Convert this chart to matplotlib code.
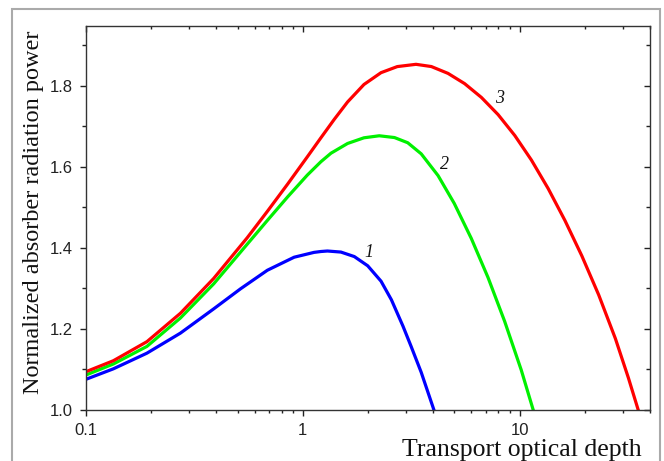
import matplotlib
matplotlib.use("Agg")
import matplotlib.pyplot as plt
from matplotlib.patches import Rectangle
from matplotlib.ticker import FixedLocator, NullFormatter, LogLocator

# ---- data ----
x_blue = [0.1, 0.1338, 0.191, 0.2725, 0.3883, 0.5164, 0.6866, 0.9128, 1.127,
          1.213, 1.300, 1.500, 1.729, 1.994, 2.297, 2.565, 2.90, 3.162, 3.52, 4.03]
y_blue = [1.0758, 1.1017, 1.1403, 1.1897, 1.2497, 1.2992, 1.345, 1.3772, 1.3891,
          1.3913, 1.3925, 1.3899, 1.3788, 1.356, 1.318, 1.272, 1.207, 1.157, 1.093, 1.0]

x_green = [0.1, 0.1338, 0.191, 0.2725, 0.3883, 0.5537, 0.6866, 0.8512, 1.05,
           1.213, 1.35, 1.61, 1.916, 2.254, 2.65, 3.05, 3.52, 4.21, 5.00, 5.99,
           7.16, 8.54, 10.19, 11.57]
y_green = [1.0864, 1.1136, 1.157, 1.227, 1.3115, 1.409, 1.468, 1.526, 1.580,
           1.613, 1.634, 1.658, 1.672, 1.677, 1.6726, 1.6598, 1.6324, 1.5787, 1.510, 1.4238,
           1.3269, 1.2189, 1.0985, 1.0]

x_red = [0.1, 0.1338, 0.191, 0.2725, 0.3883, 0.5537, 0.6866, 0.8512, 1.05, 1.213,
         1.396, 1.61, 1.916, 2.297, 2.73, 3.33, 3.92, 4.68, 5.58, 6.67, 7.97, 9.51,
         11.35, 13.56, 16.20, 19.38, 23.2, 27.7, 31.8, 35.3]
y_red = [1.0946, 1.1217, 1.1687, 1.2387, 1.3248, 1.4249, 1.4904, 1.5576, 1.6251, 1.6721,
         1.7172, 1.7605, 1.8036, 1.8328, 1.8478, 1.8534, 1.8479, 1.8310, 1.8058, 1.7717,
         1.7291, 1.6777, 1.6170, 1.5467, 1.4680, 1.3808, 1.2840, 1.1762, 1.0792, 1.0]

curve_labels = ["1", "2", "3"]
label_x = [2.02, 4.50, 8.08]
label_y = [1.390, 1.607, 1.770]

y_major = [1.0, 1.2, 1.4, 1.6, 1.8]
y_major_labels = ["1.0", "1.2", "1.4", "1.6", "1.8"]
y_minor = [1.1, 1.3, 1.5, 1.7, 1.9]
x_major = [0.1, 1, 10]
x_major_labels = ["0.1", "1", "10"]

x_title = "Transport optical depth"
y_title = "Normalized absorber radiation power"

# ---- figure ----
fig = plt.figure(figsize=(6.64, 4.61), dpi=100)
W, H = 664, 461

# outer grey frame
fig.patches.append(Rectangle((12 / W, -0.05), (660 - 12) / W, 1 - 9 / H + 0.05,
                             transform=fig.transFigure, fill=False,
                             edgecolor="#aaaaaa", linewidth=1.5, zorder=0))

ax = fig.add_axes([86 / W, (H - 410) / H, (650 - 86) / W, (410 - 26) / H])
ax.set_xscale("log")
ax.set_xlim(0.1, 40)
ax.set_ylim(1.0, 1.948)

lw = 2.3
ax.plot(x_blue, y_blue, color="#0000ff", lw=lw, solid_joinstyle="round")
ax.plot(x_green, y_green, color="#00f000", lw=lw, solid_joinstyle="round")
ax.plot(x_red, y_red, color="#ff0000", lw=lw, solid_joinstyle="round")

for t, lx, ly in zip(curve_labels, label_x, label_y):
    ax.text(lx, ly, t, family="Liberation Serif", style="italic", fontsize=13,
            ha="center", va="center", color="#111111")

ax.yaxis.set_major_locator(FixedLocator(y_major))
ax.set_yticklabels(y_major_labels)
ax.yaxis.set_minor_locator(FixedLocator(y_minor))
ax.yaxis.set_minor_formatter(NullFormatter())
ax.xaxis.set_major_locator(FixedLocator(x_major))
ax.set_xticklabels(x_major_labels)
ax.xaxis.set_minor_locator(LogLocator(base=10, subs=range(2, 10)))
ax.xaxis.set_minor_formatter(NullFormatter())

for s in ax.spines.values():
    s.set_color("#333333")
    s.set_linewidth(1.0)

ax.tick_params(which="both", left=True, bottom=True, top=True, right=True,
               labelsize=12, colors="#222222")
ax.tick_params(axis="y", which="major", length=4.5, width=1.0, pad=5)
ax.tick_params(axis="y", which="minor", length=3, width=1.0)
ax.tick_params(axis="x", which="major", length=4.5, width=1.0, pad=5)
ax.tick_params(axis="x", which="minor", length=2.5, width=1.0)
# outward on left/bottom, inward on top/right
for tick in ax.xaxis.get_major_ticks() + ax.xaxis.get_minor_ticks():
    tick.tick1line.set_marker(3)
    tick.tick2line.set_marker(3)
for tick in ax.yaxis.get_major_ticks() + ax.yaxis.get_minor_ticks():
    tick.tick1line.set_marker(0)
    tick.tick2line.set_marker(0)

for lab in ax.get_xticklabels() + ax.get_yticklabels():
    lab.set_fontfamily("Liberation Sans")

fig.text(642 / W, 1 - 456 / H, x_title, family="Liberation Serif", fontsize=18.5,
         ha="right", va="baseline", color="#111111")
fig.text(34 / W, 1 - 212 / H, y_title, family="Liberation Serif", fontsize=17.5,
         ha="center", va="center", rotation=90, color="#111111")

fig.savefig("out.png", dpi=100)
